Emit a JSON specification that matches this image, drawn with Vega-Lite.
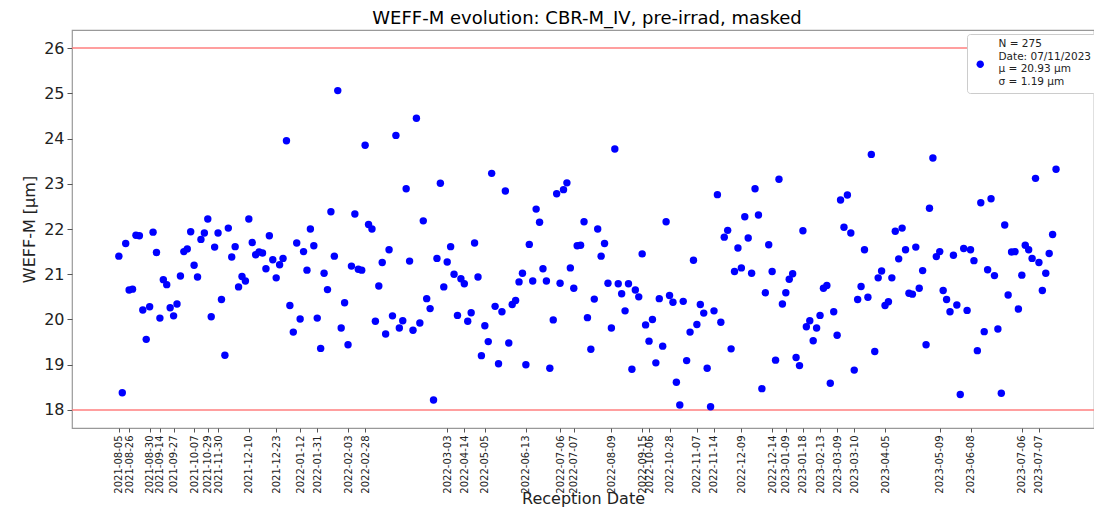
{
  "$schema": "https://vega.github.io/schema/vega-lite/v6.json",
  "width": 1022,
  "height": 398,
  "autosize": {"type": "none"},
  "padding": {"left": 72, "top": 30, "right": 0, "bottom": 79},
  "background": "white",
  "title": {"text": "WEFF-M evolution: CBR-M_IV, pre-irrad, masked", "font": "DejaVu Sans", "fontSize": 18, "fontWeight": "normal", "color": "#000000", "anchor": "middle", "offset": 2, "dx": 4},
  "config": {"view": {"stroke": "#999999", "strokeWidth": 1.2}, "font": "DejaVu Sans"},
  "datasets": {
    "pts": [
      {"i":0,"w":21.40},{"i":1,"w":18.38},{"i":2,"w":21.68},{"i":3,"w":20.65},{"i":4,"w":20.67},{"i":5,"w":21.86},{"i":6,"w":21.85},{"i":7,"w":20.21},{"i":8,"w":19.56},{"i":9,"w":20.28},
      {"i":10,"w":21.93},{"i":11,"w":21.48},{"i":12,"w":20.03},{"i":13,"w":20.88},{"i":14,"w":20.77},{"i":15,"w":20.26},{"i":16,"w":20.08},{"i":17,"w":20.34},{"i":18,"w":20.96},{"i":19,"w":21.50},
      {"i":20,"w":21.56},{"i":21,"w":21.94},{"i":22,"w":21.20},{"i":23,"w":20.94},{"i":24,"w":21.77},{"i":25,"w":21.91},{"i":26,"w":22.22},{"i":27,"w":20.06},{"i":28,"w":21.60},{"i":29,"w":21.91},
      {"i":30,"w":20.44},{"i":31,"w":19.21},{"i":32,"w":22.02},{"i":33,"w":21.38},{"i":34,"w":21.61},{"i":35,"w":20.72},{"i":36,"w":20.95},{"i":37,"w":20.85},{"i":38,"w":22.22},{"i":39,"w":21.70},
      {"i":40,"w":21.43},{"i":41,"w":21.49},{"i":42,"w":21.47},{"i":43,"w":21.12},{"i":44,"w":21.85},{"i":45,"w":21.32},{"i":46,"w":20.92},{"i":47,"w":21.21},{"i":48,"w":21.35},{"i":49,"w":23.95},
      {"i":50,"w":20.31},{"i":51,"w":19.72},{"i":52,"w":21.69},{"i":53,"w":20.01},{"i":54,"w":21.50},{"i":55,"w":21.09},{"i":56,"w":22.00},{"i":57,"w":21.63},{"i":58,"w":20.03},{"i":59,"w":19.36},
      {"i":60,"w":21.02},{"i":61,"w":20.66},{"i":62,"w":22.38},{"i":63,"w":21.40},{"i":64,"w":25.06},{"i":65,"w":19.81},{"i":66,"w":20.37},{"i":67,"w":19.44},{"i":68,"w":21.18},{"i":69,"w":22.33},
      {"i":70,"w":21.11},{"i":71,"w":21.09},{"i":72,"w":23.85},{"i":73,"w":22.10},{"i":74,"w":22.00},{"i":75,"w":19.96},{"i":76,"w":20.74},{"i":77,"w":21.26},{"i":78,"w":19.68},{"i":79,"w":21.54},
      {"i":80,"w":20.08},{"i":81,"w":24.07},{"i":82,"w":19.81},{"i":83,"w":19.97},{"i":84,"w":22.89},{"i":85,"w":21.29},{"i":86,"w":19.76},{"i":87,"w":24.45},{"i":88,"w":19.92},{"i":89,"w":22.18},
      {"i":90,"w":20.46},{"i":91,"w":20.24},{"i":92,"w":18.22},{"i":93,"w":21.35},{"i":94,"w":23.01},{"i":95,"w":20.72},{"i":96,"w":21.27},{"i":97,"w":21.61},{"i":98,"w":21.00},{"i":99,"w":20.09},
      {"i":100,"w":20.90},{"i":101,"w":20.79},{"i":102,"w":19.96},{"i":103,"w":20.15},{"i":104,"w":21.69},{"i":105,"w":20.94},{"i":106,"w":19.20},{"i":107,"w":19.86},{"i":108,"w":19.51},{"i":109,"w":23.23},
      {"i":110,"w":20.29},{"i":111,"w":19.02},{"i":112,"w":20.17},{"i":113,"w":22.84},{"i":114,"w":19.48},{"i":115,"w":20.33},{"i":116,"w":20.42},{"i":117,"w":20.83},{"i":118,"w":21.02},{"i":119,"w":19.00},
      {"i":120,"w":21.66},{"i":121,"w":20.85},{"i":122,"w":22.44},{"i":123,"w":22.15},{"i":124,"w":21.12},{"i":125,"w":20.85},{"i":126,"w":18.92},{"i":127,"w":19.99},{"i":128,"w":22.78},{"i":129,"w":20.80},
      {"i":130,"w":22.87},{"i":131,"w":23.02},{"i":132,"w":21.14},{"i":133,"w":20.69},{"i":134,"w":21.63},{"i":135,"w":21.64},{"i":136,"w":22.16},{"i":137,"w":20.04},{"i":138,"w":19.34},{"i":139,"w":20.45},
      {"i":140,"w":22.00},{"i":141,"w":21.40},{"i":142,"w":21.68},{"i":143,"w":20.80},{"i":144,"w":19.81},{"i":145,"w":23.77},{"i":146,"w":20.79},{"i":147,"w":20.57},{"i":148,"w":20.19},{"i":149,"w":20.79},
      {"i":150,"w":18.90},{"i":151,"w":20.65},{"i":152,"w":20.50},{"i":153,"w":21.45},{"i":154,"w":19.88},{"i":155,"w":19.52},{"i":156,"w":20.00},{"i":157,"w":19.04},{"i":158,"w":20.46},{"i":159,"w":19.41},
      {"i":160,"w":22.16},{"i":161,"w":20.53},{"i":162,"w":20.38},{"i":163,"w":18.61},{"i":164,"w":18.11},{"i":165,"w":20.40},{"i":166,"w":19.09},{"i":167,"w":19.72},{"i":168,"w":21.31},{"i":169,"w":19.89},
      {"i":170,"w":20.33},{"i":171,"w":20.14},{"i":172,"w":18.92},{"i":173,"w":18.07},{"i":174,"w":20.19},{"i":175,"w":22.76},{"i":176,"w":19.94},{"i":177,"w":21.82},{"i":178,"w":21.97},{"i":179,"w":19.35},
      {"i":180,"w":21.06},{"i":181,"w":21.58},{"i":182,"w":21.14},{"i":183,"w":22.27},{"i":184,"w":21.80},{"i":185,"w":21.02},{"i":186,"w":22.89},{"i":187,"w":22.31},{"i":188,"w":18.47},{"i":189,"w":20.59},
      {"i":190,"w":21.65},{"i":191,"w":21.06},{"i":192,"w":19.10},{"i":193,"w":23.10},{"i":194,"w":20.34},{"i":195,"w":20.59},{"i":196,"w":20.89},{"i":197,"w":21.01},{"i":198,"w":19.16},{"i":199,"w":18.98},
      {"i":200,"w":21.96},{"i":201,"w":19.84},{"i":202,"w":19.97},{"i":203,"w":19.53},{"i":204,"w":19.81},{"i":205,"w":20.09},{"i":206,"w":20.69},{"i":207,"w":20.75},{"i":208,"w":18.59},{"i":209,"w":20.17},
      {"i":210,"w":19.65},{"i":211,"w":22.64},{"i":212,"w":22.04},{"i":213,"w":22.75},{"i":214,"w":21.91},{"i":215,"w":18.88},{"i":216,"w":20.44},{"i":217,"w":20.73},{"i":218,"w":21.54},{"i":219,"w":20.49},
      {"i":220,"w":23.65},{"i":221,"w":19.29},{"i":222,"w":20.92},{"i":223,"w":21.07},{"i":224,"w":20.31},{"i":225,"w":20.39},{"i":226,"w":20.92},{"i":227,"w":21.95},{"i":228,"w":21.34},{"i":229,"w":22.02},
      {"i":230,"w":21.54},{"i":231,"w":20.58},{"i":232,"w":20.56},{"i":233,"w":21.60},{"i":234,"w":20.69},{"i":235,"w":21.08},{"i":236,"w":19.44},{"i":237,"w":22.46},{"i":238,"w":23.57},{"i":239,"w":21.39},
      {"i":240,"w":21.50},{"i":241,"w":20.64},{"i":242,"w":20.44},{"i":243,"w":20.17},{"i":244,"w":21.42},{"i":245,"w":20.32},{"i":246,"w":18.34},{"i":247,"w":21.57},{"i":248,"w":20.20},{"i":249,"w":21.54},
      {"i":250,"w":21.30},{"i":251,"w":19.31},{"i":252,"w":22.58},{"i":253,"w":19.73},{"i":254,"w":21.10},{"i":255,"w":22.67},{"i":256,"w":20.97},{"i":257,"w":19.79},{"i":258,"w":18.37},{"i":259,"w":22.09},
      {"i":260,"w":20.54},{"i":261,"w":21.49},{"i":262,"w":21.50},{"i":263,"w":20.23},{"i":264,"w":20.98},{"i":265,"w":21.64},{"i":266,"w":21.54},{"i":267,"w":21.35},{"i":268,"w":23.12},{"i":269,"w":21.26},
      {"i":270,"w":20.64},{"i":271,"w":21.02},{"i":272,"w":21.46},{"i":273,"w":21.88},{"i":274,"w":23.32}
    ],
    "limits": [{"w": 18}, {"w": 26}]
  },
  "encoding": {
    "y": {
      "field": "w", "type": "quantitative",
      "scale": {"domain": [17.6, 26.4], "nice": false, "zero": false},
      "axis": {
        "values": [18, 19, 20, 21, 22, 23, 24, 25, 26],
        "grid": false, "domain": false,
        "labelFont": "DejaVu Sans", "labelFontSize": 16, "labelColor": "#222222", "labelPadding": 3,
        "tickSize": 5, "tickColor": "#555555",
        "title": "WEFF-M [μm]", "titleFont": "DejaVu Sans", "titleFontSize": 16, "titleFontWeight": "normal", "titleColor": "#222222", "titlePadding": 6
      }
    }
  },
  "layer": [
    {
      "data": {"name": "limits"},
      "mark": {"type": "rule", "color": "#ff7f7f", "strokeWidth": 1.5}
    },
    {
      "data": {"name": "pts"},
      "mark": {"type": "point", "filled": true, "opacity": 1, "size": 55, "shape": "circle"},
      "encoding": {
        "x": {
          "field": "i", "type": "quantitative",
          "scale": {"domain": [-13.7, 285.1], "nice": false, "zero": false},
          "axis": {
            "values": [0,3,9,12,16,22,26,29,38,46,53,58,67,72,96,101,107,119,129,133,144,153,155,161,169,174,182,191,195,200,205,210,215,224,240,249,264,269],
            "labelExpr": "['2021-08-05','2021-08-26','2021-08-30','2021-09-14','2021-09-27','2021-10-07','2021-10-29','2021-11-30','2021-12-10','2021-12-23','2022-01-12','2022-01-31','2022-02-03','2022-02-28','2022-03-03','2022-04-14','2022-05-05','2022-06-13','2022-07-06','2022-07-07','2022-08-09','2022-09-15','2022-10-06','2022-10-28','2022-11-07','2022-11-14','2022-12-09','2022-12-14','2023-01-09','2023-01-18','2023-02-13','2023-03-09','2023-03-10','2023-04-05','2023-05-09','2023-06-08','2023-07-06','2023-07-07'][indexof([0,3,9,12,16,22,26,29,38,46,53,58,67,72,96,101,107,119,129,133,144,153,155,161,169,174,182,191,195,200,205,210,215,224,240,249,264,269], datum.value)]",
            "labelAngle": 270, "labelAlign": "right", "labelBaseline": "middle",
            "labelFont": "DejaVu Sans", "labelFontSize": 10, "labelColor": "#222222",
            "labelOverlap": false, "labelFlush": false, "labelBound": false, "labelPadding": 3,
            "tickSize": 4, "tickColor": "#555555", "grid": false, "domain": false,
            "title": "Reception Date", "titleFont": "DejaVu Sans", "titleFontSize": 16, "titleFontWeight": "normal", "titleColor": "#222222", "titlePadding": -3
          }
        },
        "color": {
          "datum": "stats",
          "scale": {"range": ["#0000ff"]},
          "legend": {
            "title": null, "orient": "none", "legendX": 895, "legendY": 4,
            "labelExpr": "['N = 275', 'Date: 07/11/2023', 'μ = 20.93 μm', 'σ = 1.19 μm']",
            "labelFont": "DejaVu Sans", "labelFontSize": 10.5, "labelColor": "#222222", "labelOffset": 13, "labelLimit": 200,
            "symbolType": "M -1 5.4 A 1 1 0 1 1 1 5.4 A 1 1 0 1 1 -1 5.4 Z", "symbolSize": 55, "symbolStrokeWidth": 0, "symbolOffset": 3,
            "strokeColor": "#cccccc", "fillColor": "white", "cornerRadius": 3, "padding": 5
          }
        }
      }
    }
  ]
}
